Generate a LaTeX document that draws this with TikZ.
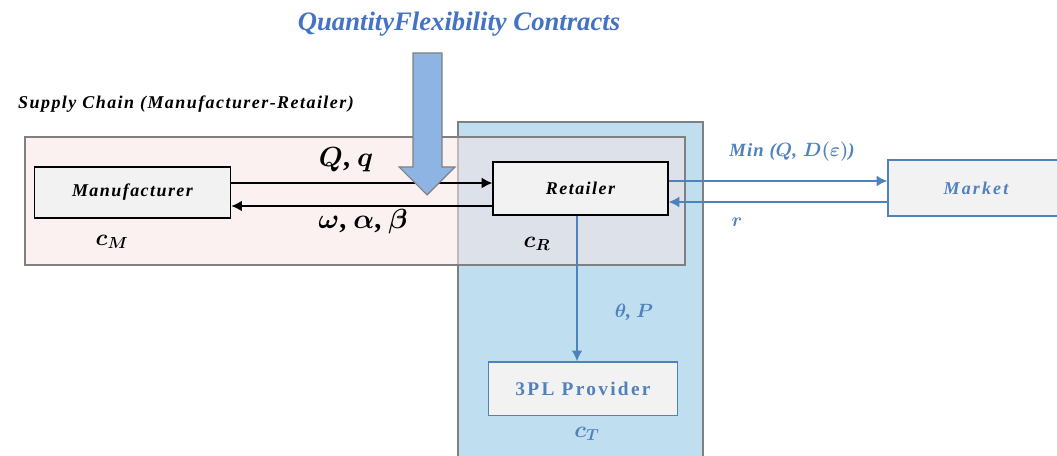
\documentclass[tikz,border=0pt]{standalone}
\usepackage{fontspec}
\setmainfont{Liberation Serif}
\usetikzlibrary{positioning, arrows.meta}
\definecolor{lineblue}{HTML}{4F81BD}
\definecolor{titleblue}{HTML}{4472C4}
\definecolor{arrowfill}{HTML}{8DB4E2}
\definecolor{pinkfill}{HTML}{F7E6E6}
\definecolor{zonefill}{HTML}{BFDFF0}
\definecolor{boxfill}{HTML}{F2F2F2}
\newcommand{\boxfont}{\fontsize{13.5}{16}\selectfont\addfontfeatures{LetterSpace=8}}
\tikzset{
  agent/.style={rectangle, draw=black, line width=1.2pt, fill=boxfill, font=\bfseries\itshape\boxfont, text centered},
  bluebox/.style={rectangle, draw=lineblue, line width=1pt, fill=boxfill, text=lineblue, text centered},
  flow/.style={-{Latex[length=8pt,width=8pt]}, line width=1.1pt},
  bflow/.style={-{Latex[length=8pt,width=8pt]}, line width=1pt, draw=lineblue}
}

\begin{document}
\begin{tikzpicture}[x=0.75pt, y=-0.75pt,
        zone/.style={draw=gray, line width=1.2pt},
        cost/.style={font=\bfseries\boldmath\fontsize{18}{20}\selectfont},
        param/.style={font=\bfseries\boldmath\fontsize{21}{24}\selectfont},
        bluelabel/.style={text=lineblue, font=\bfseries\itshape\boldmath\fontsize{15}{18}\selectfont}
    ]
        \useasboundingbox (0,0) rectangle (1057,456);
        \clip (0,0) rectangle (1057,456);

        % Zonas
        \draw[zone, fill=zonefill] (458,122) rectangle (703,470);
        \draw[zone, fill=pinkfill, fill opacity=0.55] (25,137) rectangle (685,265);
        \node[font=\bfseries\itshape\boxfont] (sc) at (186,104) {Supply Chain (Manufacturer-Retailer)};

        % Agentes
        \node[agent, minimum width=147pt, minimum height=38pt] (manu) at (132.5,192.5) {Manufacturer};
        \node[agent, minimum width=131pt, minimum height=40pt] (ret) at (580.5,188.5) {Retailer};
        \node[bluebox, minimum width=132pt, minimum height=42pt, font=\bfseries\itshape\boxfont\addfontfeatures{LetterSpace=12}] (market) at (976,188) {Market};
        \node[bluebox, minimum width=142pt, minimum height=40pt, font=\bfseries\fontsize{14.5}{17}\selectfont\addfontfeatures{LetterSpace=12}] (tpl) at (583,388.5) {3PL Provider};

        % Costes
        \node[cost] (cm) at (112,242) {$c_M$};
        \node[cost] (cr) at (537,244) {$c_R$};
        \node[cost, text=lineblue] (ct) at (587,434) {$c_T$};

        % Flujos fabricante - minorista
        \draw[flow] (manu.east |- 0,183) -- (ret.west |- 0,183);
        \draw[flow] (ret.west |- 0,206) -- (manu.east |- 0,206);
        \node[param] (qq) at (346,160) {$Q$, $q$};
        \node[param] (wab) at (363,222) {$\omega$, $\alpha$, $\beta$};

        % Contrato
        \draw[draw=gray, fill=arrowfill, line width=0.8pt]
            (413,53) -- (442,53) -- (442,167) -- (455,167) -- (427,195) -- (399,167) -- (413,167) -- cycle;
        \node[text=titleblue, font=\bfseries\itshape\fontsize{20}{24}\selectfont] (title) at (459,24) {QuantityFlexibility Contracts};

        % Flujos minorista - mercado
        \draw[bflow] (ret.east |- 0,181) -- (market.west |- 0,181);
        \draw[bflow] (market.west |- 0,202) -- (ret.east |- 0,202);
        \node[bluelabel, font=\bfseries\itshape\boldmath\fontsize{14}{17}\selectfont\addfontfeatures{LetterSpace=6}] (demand) at (792,152) {Min ($Q$, $D(\varepsilon)$)};
        \node[bluelabel] (price) at (737,222) {$r$};

        % Flujo minorista - 3PL
        \draw[bflow] (ret.south -| 577,0) -- (tpl.north -| 577,0);
        \node[bluelabel] (tp) at (634,312) {$\theta$, $P$};
    \end{tikzpicture}
\end{document}
